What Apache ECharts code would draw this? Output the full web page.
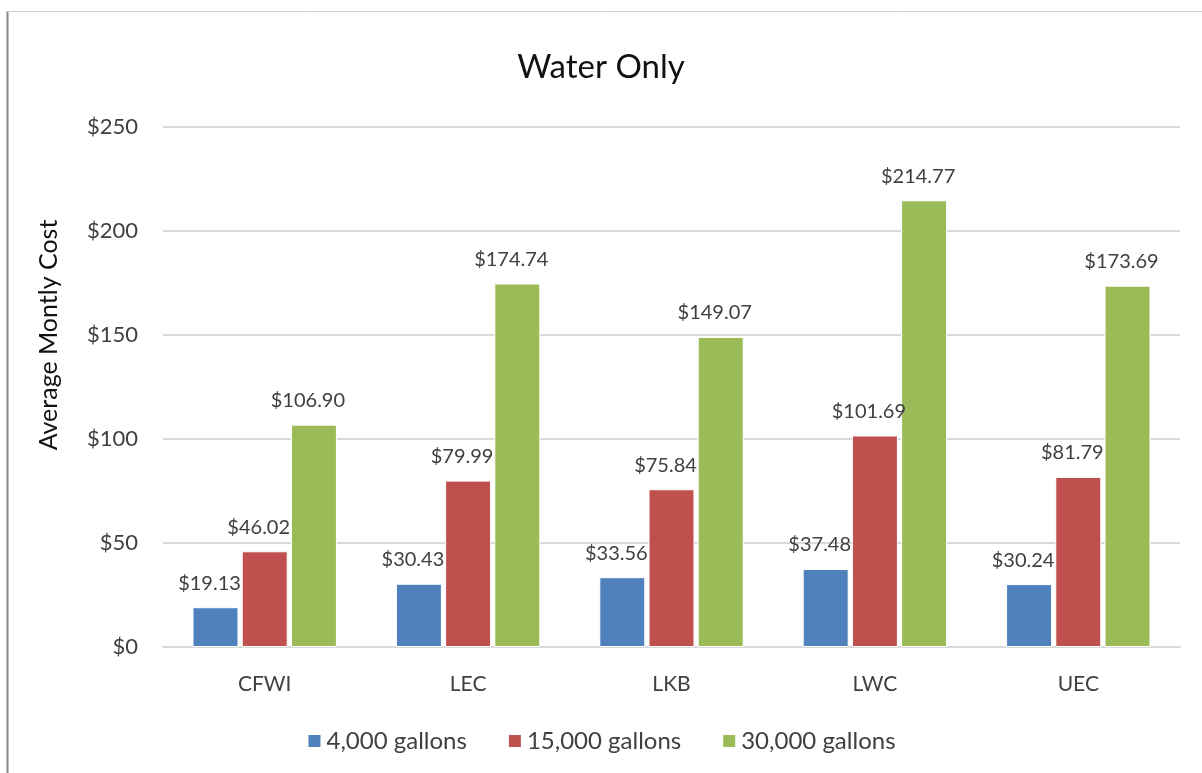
<!DOCTYPE html>
<html>
<head>
<meta charset="utf-8">
<script src="https://cdn.jsdelivr.net/npm/echarts@6/dist/echarts.min.js"></script>
<style>
  html, body { margin: 0; padding: 0; background: #fff; }
  #main { width: 1202px; height: 773px; }
</style>
</head>
<body>
<div id="main"></div>
<script>
var chart = echarts.init(document.getElementById('main'));

// data
var sites = ['CFWI', 'LEC', 'LKB', 'LWC', 'UEC'];
var gal4000 = [19.13, 30.43, 33.56, 37.48, 30.24];
var gal15000 = [46.02, 79.99, 75.84, 101.69, 81.79];
var gal30000 = [106.90, 174.74, 149.07, 214.77, 173.69];
var seriesNames = ['4,000 gallons', '15,000 gallons', '30,000 gallons'];
var colors = ['#4F81BD', '#C0504D', '#9BBB59'];

var font = 'Lato, "Open Sans", sans-serif';

function money(p) {
  return '$' + p.value.toFixed(2);
}

function makeSeries(name, data, color) {
  return {
    name: name,
    type: 'bar',
    data: data,
    barGap: '7%',
    barCategoryGap: '29%',
    itemStyle: { color: color, borderColor: '#fff', borderWidth: 1 },
    label: {
      show: true,
      position: 'top',
      distance: 14,
      offset: [-6, 0],
      formatter: money,
      color: '#404040',
      fontFamily: font,
      fontSize: 20
    }
  };
}

var option = {
  backgroundColor: '#fff',
  color: colors,
  title: {
    text: 'Water Only',
    left: 'center',
    top: 46,
    textStyle: { fontFamily: font, fontSize: 33, fontWeight: 'normal', color: '#111' }
  },
  legend: {
    top: 724,
    left: 'center',
    itemWidth: 14,
    itemHeight: 14,
    itemGap: 40,
    icon: 'rect',
    textStyle: { fontFamily: font, fontSize: 24, color: '#404040' },
    data: seriesNames
  },
  grid: { left: 163, right: 22, top: 127, bottom: 126 },
  xAxis: {
    type: 'category',
    data: sites,
    axisLine: { lineStyle: { color: '#d9d9d9', width: 2 } },
    axisTick: { show: false },
    axisLabel: { margin: 27, fontFamily: font, fontSize: 21, color: '#404040' }
  },
  yAxis: {
    type: 'value',
    min: 0,
    max: 250,
    interval: 50,
    axisLabel: { margin: 25, fontFamily: font, fontSize: 22, color: '#404040', formatter: '${value}' },
    splitLine: { lineStyle: { color: '#d9d9d9', width: 2 } }
  },
  graphic: [
    { type: 'line', shape: { x1: 7.5, y1: 11, x2: 7.5, y2: 773 }, style: { stroke: '#888', lineWidth: 2 } },
    { type: 'line', shape: { x1: 7, y1: 11.5, x2: 1202, y2: 11.5 }, style: { stroke: '#d0d0d0', lineWidth: 1 } },
    {
      type: 'text',
      x: 49,
      y: 335,
      rotation: Math.PI / 2,
      style: {
        text: 'Average Montly Cost',
        fill: '#111',
        font: '25px ' + font,
        align: 'center',
        verticalAlign: 'middle'
      }
    }
  ],
  series: [
    makeSeries(seriesNames[0], gal4000, colors[0]),
    makeSeries(seriesNames[1], gal15000, colors[1]),
    makeSeries(seriesNames[2], gal30000, colors[2])
  ]
};

chart.setOption(option);
window.onresize = chart.resize;
</script>
</body>
</html>
